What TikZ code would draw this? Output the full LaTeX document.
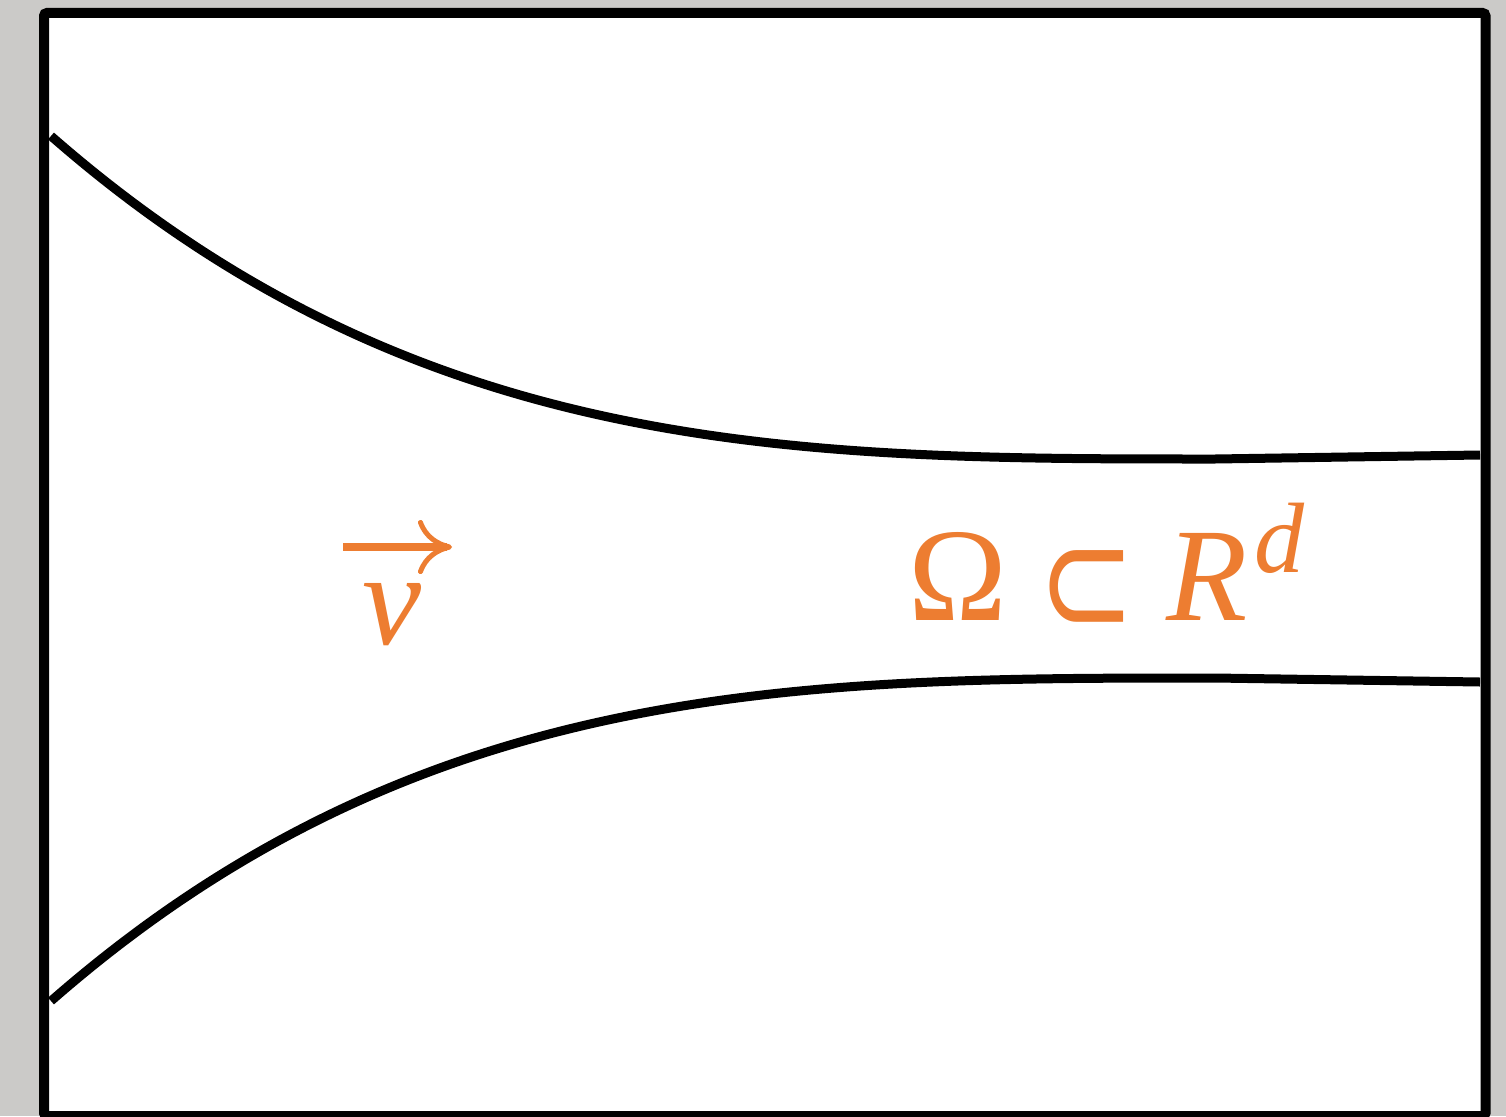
\documentclass[tikz,border=0pt]{standalone}
\usepackage{fontspec}
\setmainfont{Liberation Serif}
\newfontfamily\djvsans{DejaVu Sans}
\usetikzlibrary{arrows.meta}
\definecolor{orng}{HTML}{ED7D31}
\definecolor{bggrey}{HTML}{CBCAC8}
\begin{document}
\begin{tikzpicture}[x=1pt,y=-1pt,
  lbl/.style={text=orng, inner sep=0pt, font=\fontsize{133}{140}\selectfont},
  wall/.style={line width=9pt, line cap=butt, line join=round},
  frame/.style={line width=10pt, fill=white, rounded corners=3pt},
  vecarrow/.style={draw=orng, line width=8pt, -{To[length=34pt,width=54pt,line width=5pt 0]}}]
\useasboundingbox (0,0) rectangle (1506,1116);
\fill[bggrey] (0,0) rectangle (1506,1116);
\draw[frame] (44,13) rectangle (1485.5,1116);
% upper wall
\coordinate (ua) at (51,136);
\coordinate (ub) at (1215,459);
\coordinate (uc) at (1480,455);
\draw[wall] (ua) .. controls (420,459) and (800,459) .. (ub) -- (uc);
% lower wall
\coordinate (la) at (51,1001);
\coordinate (lb) at (1215,678);
\coordinate (lc) at (1480,682);
\draw[wall] (la) .. controls (420,678) and (800,678) .. (lb) -- (lc);
% vector label
\node[lbl, anchor=base, font=\fontsize{133}{140}\selectfont\itshape] (v) at (392,644) {v};
\coordinate (va) at (343,547);
\coordinate (vb) at (452,547);
\draw[vecarrow] (va) -- (vb);
% domain label
\node[lbl, anchor=base west] (om) at (908,620) {Ω};
\node[lbl, anchor=base west, font=\fontsize{128}{140}\selectfont\djvsans] (sub) at (1038,634) {\scalebox{0.9}[1.2]{⊂}};
\node[lbl, anchor=base west] (rd) at (1166,620) {\itshape R\kern7pt\raisebox{48pt}{\fontsize{100}{100}\selectfont d}};
\end{tikzpicture}
\end{document}
